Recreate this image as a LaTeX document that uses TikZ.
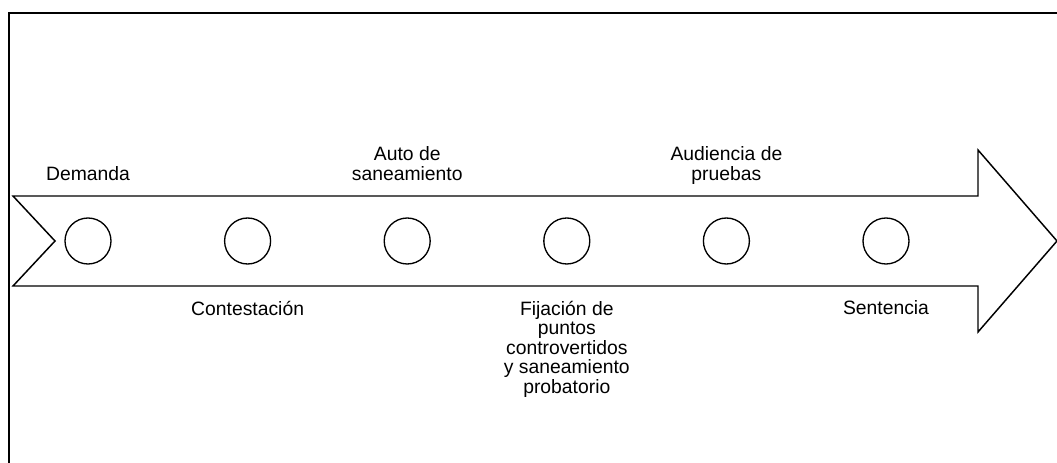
\documentclass[tikz,border=0pt]{standalone}
\usepackage{fontspec}
\setmainfont{Liberation Sans}
\usetikzlibrary{positioning}
\tikzset{
  stage/.style={circle,draw,line width=1pt,minimum size=34.5pt,inner sep=0pt},
  lbl/.style={align=center,inner sep=0pt,text depth=0pt,font=\fontsize{14.5pt}{14.7pt}\selectfont},
}
\begin{document}
\begin{tikzpicture}[x=0.75pt,y=0.75pt]
\useasboundingbox (0,0) rectangle (1057,-463);
% marco
\draw[line width=1.5pt] (9,-463) -- (9,-13) -- (1057,-13);
% flecha
\draw[line width=1.1pt,line join=miter] (13,-196) -- (978,-196) -- (978,-150) -- (1057,-241) -- (978,-332) -- (978,-286) -- (13,-286) -- (55,-241) -- cycle;
% etapas
\foreach \i in {1,...,6}
  \node[stage] (c\i) at ({88+159.6*(\i-1)},-241) {};
% arriba
\node[lbl,above=27.75pt of c1] (demanda) {Demanda};
\node[lbl,above=27.75pt of c3] (auto) {Auto de\\saneamiento};
\node[lbl,above=27.75pt of c5] (audiencia) {Audiencia de\\pruebas};
% abajo
\node[lbl,below=27pt of c2] (contestacion) {Contestación};
\node[lbl,below=27pt of c4] (fijacion) {Fijación de\\puntos\\controvertidos\\y saneamiento\\probatorio};
\node[lbl,below=27pt of c6] (sentencia) {Sentencia};
\end{tikzpicture}
\end{document}
